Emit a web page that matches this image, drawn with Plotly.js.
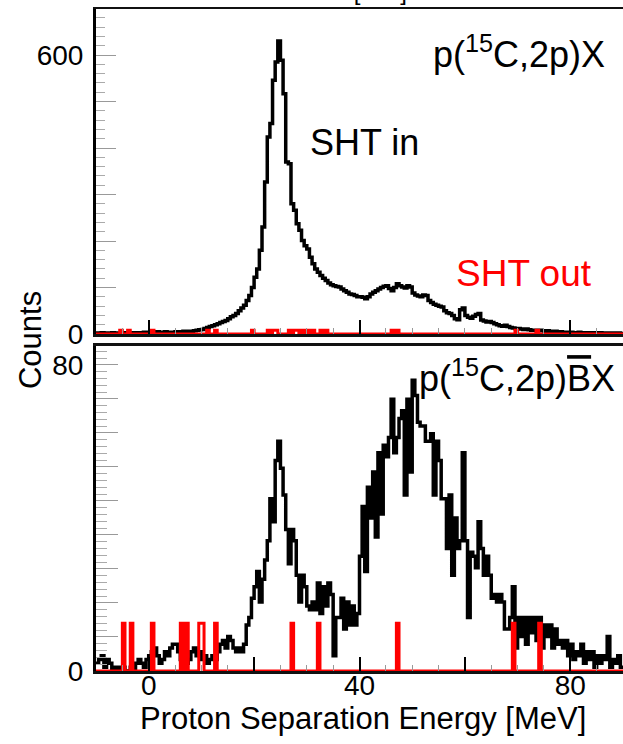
<!DOCTYPE html>
<html>
<head>
<meta charset="utf-8">
<script src="https://cdn.plot.ly/plotly-3.0.1.min.js"></script>
<style>html,body{margin:0;padding:0;background:#fff;}#chart{width:623px;height:744px;}</style>
</head>
<body>
<div id="chart"></div>
<script>
// Histogram binning (MeV)
const binStart = -10;
const binWidth = 0.5;

// Top panel p(15C,2p)X : "SHT in" counts per 0.5 MeV bin, from -10 to 90 MeV
const shtInTop = [
  2,1,3,2,2,1,3,2,1,2,
  3,2,2,3,2,3,2,3,4,3,
  4,3,4,5,3,4,5,4,3,4,
  5,4,5,6,5,6,5,7,8,9,
  10,12,14,16,18,20,22,25,27,29,
  33,37,40,44,50,56,62,72,83,100,
  122,140,180,230,327,424,453,546,585,630,
  589,517,370,366,280,266,237,223,201,190,
  183,165,151,140,133,126,120,115,110,106,
  104,102,101,97,93,90,86,85,83,80,
  80,79,76,80,86,90,93,97,100,103,
  104,98,93,100,108,104,101,99,104,101,
  88,84,82,80,84,83,72,68,64,62,
  60,58,50,46,44,40,33,31,52,56,
  40,36,34,38,42,44,30,28,26,27,
  25,22,20,18,17,19,16,14,13,12,
  12,11,10,11,9,8,8,7,8,7,
  6,7,6,5,6,4,5,4,4,3,
  4,3,3,4,3,2,3,3,2,3,
  2,3,2,2,1,2,2,1,2,1
];
// Top panel "SHT out": lower bin edges of non-empty bins and their counts
const shtOutTopBins = [-5.5,-4,0.5,11,12.5,19.5,22.5,23.5,24,26.5,27.5,28,29,30,31,32.5,33.5,46,47,69.5,73.5];
const shtOutTopCounts = [8,8,8,8,8,8,8,8,8,8,8,8,8,8,8,8,8,8,8,8,8];

// Bottom panel p(15C,2p)B̄X : "SHT in" counts per 0.5 MeV bin
const shtInBottom = [
  2,3,4,1,3,2,0,1,0,1,
  1,0,0,1,0,2,3,2,1,3,
  4,5,6,4,2,3,5,4,6,7,
  7,5,3,4,2,3,5,6,4,5,
  3,4,2,3,4,3,5,7,8,6,
  9,8,6,5,6,5,7,12,14,19,
  22,26,18,24,29,34,45,39,55,60,
  53,46,37,28,37,34,25,18,25,22,
  17,16,18,16,23,15,22,17,23,20,
  4,14,14,19,11,18,12,17,12,15,
  30,43,26,48,40,52,35,57,41,59,
  56,61,71,57,61,66,68,46,71,52,
  76,72,65,64,64,60,60,62,46,60,
  55,45,45,32,46,25,40,32,34,57,
  34,14,31,30,27,39,32,25,30,25,
  19,20,18,20,18,11,11,14,22,6,
  14,9,14,7,14,10,14,8,14,6,
  12,9,12,6,11,7,8,6,8,4,
  7,3,5,4,7,2,5,3,5,1,
  4,2,4,3,9,1,3,2,4,1
];
// Bottom panel "SHT out": lower bin edges of non-empty bins and their counts
const shtOutBottomBins = [-5,-3.5,0.5,6,7,9.5,10,12.5,27,32,47,69,74];
const shtOutBottomCounts = [12.5,12.5,12.5,12.5,12.5,12.5,12.5,12.5,12.5,12.5,12.5,12.5,12.5];

// Axis tick labels
const xTickVals = [0,20,40,60,80];
const xTickText = ['0','','40','','80'];
const topYTickVals = [0,100,200,300,400,500,600];
const topYTickText = ['0','','','','','','600'];
const bottomYLabels = ['0','80'];

// ---- build step-histogram coordinates ----
const nBins = shtInTop.length;
function edges(){ const e=[]; for(let i=0;i<=nBins;i++) e.push(binStart+i*binWidth); return e; }
function stepY(vals){ const y=vals.slice(); y.push(vals[vals.length-1]); return y; }
function fromSparse(bins, counts){
  const v = new Array(nBins).fill(0);
  bins.forEach((b,k)=>{ const i=Math.round((b-binStart)/binWidth); v[i]+=counts[k]; });
  return v;
}
const ex = edges();
const outTop = fromSparse(shtOutTopBins, shtOutTopCounts);
const outBottom = fromSparse(shtOutBottomBins, shtOutBottomCounts);

const FONT = 'Liberation Sans, Arial, Helvetica, sans-serif';

const traces = [
  {x: ex, y: stepY(shtInTop), xaxis:'x2', yaxis:'y2', type:'scatter', mode:'lines',
   line:{shape:'hv', color:'#000', width:3.5}, name:'SHT in', showlegend:false},
  {x: ex, y: stepY(outTop), xaxis:'x2', yaxis:'y2', type:'scatter', mode:'lines',
   line:{shape:'hv', color:'#ff0000', width:3}, name:'SHT out', showlegend:false},
  {x: ex, y: stepY(shtInBottom), xaxis:'x', yaxis:'y', type:'scatter', mode:'lines',
   line:{shape:'hv', color:'#000', width:3.5}, name:'SHT in', showlegend:false},
  {x: ex, y: stepY(outBottom), xaxis:'x', yaxis:'y', type:'scatter', mode:'lines',
   line:{shape:'hv', color:'#ff0000', width:3}, name:'SHT out', showlegend:false}
];

const bottomStep = 80/9;
const bottomMajor = []; for(let k=0;k<=9;k++) bottomMajor.push(k*bottomStep);
const bottomMajorText = bottomMajor.map((v,k)=> k===0 ? bottomYLabels[0] : (k===9 ? bottomYLabels[1] : ''));
const bottomMinor = []; for(let k=0;k*bottomStep/5<=85;k++){ if(k%5!==0) bottomMinor.push(k*bottomStep/5); }

function xAxis(anchor, labels){
  return {
    anchor: anchor, range:[-10,90], showgrid:false, zeroline:false,
    showline:true, linecolor:'#111', linewidth:2.5, mirror:true,
    tickmode:'array', tickvals:xTickVals, ticktext:xTickText,
    ticks:'inside', ticklen:14, tickwidth:2, tickcolor:'#000',
    showticklabels: labels, tickfont:{family:FONT, size:28, color:'#000'},
    minor:{tickmode:'linear', tick0:0, dtick:5, ticks:'inside', ticklen:6, tickwidth:1, tickcolor:'#999', showgrid:false}
  };
}

const layout = {
  width:623, height:744,
  margin:{l:96, r:0, t:9, b:73},
  paper_bgcolor:'#fff', plot_bgcolor:'#fff',
  font:{family:FONT, color:'#000'},
  showlegend:false,
  xaxis: Object.assign(xAxis('y', true), {ticklabelstandoff:-12}),
  xaxis2: Object.assign(xAxis('y2', false), {matches:'x'}),
  yaxis: {
    domain:[0,0.4914], range:[0,85], anchor:'x', showgrid:false, zeroline:false,
    showline:true, linecolor:'#000', linewidth:3, mirror:false,
    tickmode:'array', tickvals:bottomMajor, ticktext:bottomMajorText,
    ticks:'inside', ticklen:22, tickwidth:1, tickcolor:'#999',
    tickfont:{family:FONT, size:28, color:'#000'}, ticklabelstandoff:4,
    minor:{tickmode:'array', tickvals:bottomMinor, ticks:'inside', ticklen:11, tickwidth:1, tickcolor:'#aaa', showgrid:false}
  },
  yaxis2: {
    domain:[0.509,1], range:[0,699], anchor:'x2', showgrid:false, zeroline:false,
    showline:true, linecolor:'#000', linewidth:3, mirror:false,
    tickmode:'array', tickvals:topYTickVals, ticktext:topYTickText,
    ticks:'inside', ticklen:20, tickwidth:1, tickcolor:'#999',
    tickfont:{family:FONT, size:28, color:'#000'}, ticklabelstandoff:4,
    minor:{tickmode:'linear', tick0:0, dtick:20, ticks:'inside', ticklen:9, tickwidth:1, tickcolor:'#aaa', showgrid:false}
  },
  annotations: [
    {text:'p(<sup>15</sup>C,2p)X', xref:'paper', yref:'paper', x:0.9696, y:0.935,
     xanchor:'right', yanchor:'middle', showarrow:false, font:{family:FONT, size:36, color:'#000'}},
    {text:'p(<sup>15</sup>C,2p)<span style="text-decoration:overline">B</span>X', xref:'paper', yref:'paper', x:0.9886, y:0.4456,
     xanchor:'right', yanchor:'middle', showarrow:false, font:{family:FONT, size:36, color:'#000'}},
    {text:'SHT in', xref:'paper', yref:'paper', x:0.402, y:0.7976,
     xanchor:'left', yanchor:'middle', showarrow:false, font:{family:FONT, size:36, color:'#000'}},
    {text:'SHT out', xref:'paper', yref:'paper', x:0.679, y:0.601,
     xanchor:'left', yanchor:'middle', showarrow:false, font:{family:FONT, size:37, color:'#ff0000'}},
    {text:'Counts', xref:'paper', yref:'paper', x:-0.1252, y:0.5, textangle:-90,
     xanchor:'center', yanchor:'middle', showarrow:false, font:{family:FONT, size:31, color:'#000'}},
    {text:'Proton Separation Energy [MeV]', xref:'paper', yref:'paper', x:0.5066, y:-0.071,
     xanchor:'center', yanchor:'middle', showarrow:false, font:{family:FONT, size:31, color:'#000'}},
    {text:'Vertex [mm]', xref:'paper', yref:'paper', x:0.4687, y:1.027,
     xanchor:'center', yanchor:'middle', showarrow:false, font:{family:FONT, size:24, color:'#000'}}
  ]
};

Plotly.newPlot('chart', traces, layout, {staticPlot:true, displayModeBar:false});
</script>
</body>
</html>
